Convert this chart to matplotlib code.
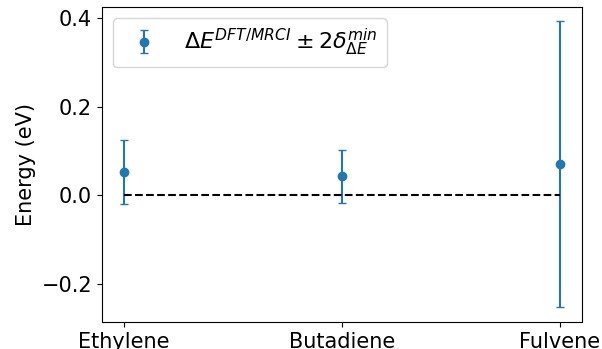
import matplotlib.pyplot as plt

molecules = ['Ethylene', 'Butadiene', 'Fulvene']
delta_e = [0.052, 0.043, 0.070]
two_delta_min = [0.072, 0.059, 0.322]

plt.rcParams['font.size'] = 15

fig = plt.figure(figsize=(6.02, 3.49), dpi=100)
ax = fig.add_axes([0.169, 0.078, 0.797, 0.902])

ax.errorbar(molecules, delta_e, yerr=two_delta_min, fmt='o', capsize=3,
            label=r'$\Delta E^{DFT/MRCI} \pm 2\delta_{\Delta E}^{min}$')
ax.plot(molecules, [0] * len(molecules), 'k--')

ax.set_ylabel('Energy (eV)')
ax.set_yticks([-0.2, 0.0, 0.2, 0.4])
ax.legend(loc='upper left', fontsize=16)

fig.savefig('out.png', dpi=100)
